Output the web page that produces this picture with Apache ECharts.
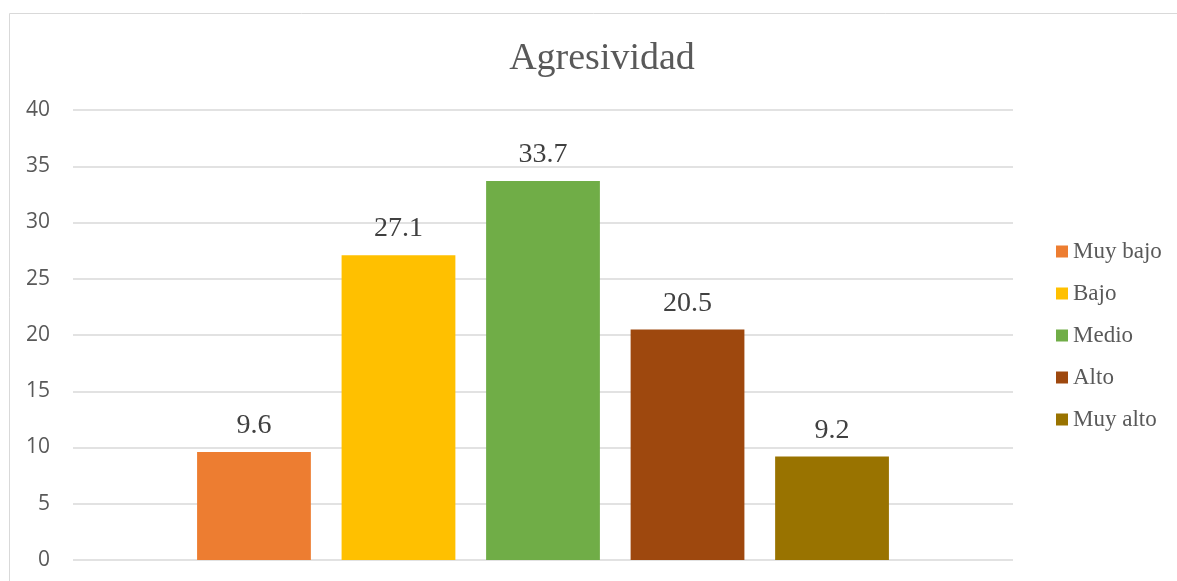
<!DOCTYPE html>
<html>
<head>
<meta charset="utf-8">
<script src="https://cdn.jsdelivr.net/npm/echarts@6/dist/echarts.min.js"></script>
<style>
  html, body { margin: 0; padding: 0; background: #fff; }
  #chart { width: 1177px; height: 581px; }
</style>
</head>
<body>
<div id="chart"></div>
<script>
// 数据
const levels = ['Muy bajo', 'Bajo', 'Medio', 'Alto', 'Muy alto']
const percents = [9.6, 27.1, 33.7, 20.5, 9.2]
const colors = ['#ed7d31', '#ffc000', '#70ad47', '#9e480e', '#997300']
const yTicks = [0, 5, 10, 15, 20, 25, 30, 35, 40]

const chart = echarts.init(document.getElementById('chart'))

const optionData = {
  animation: false,
  title: {
    text: 'Agresividad',
    left: 597,
    textAlign: 'center',
    top: 35,
    textStyle: {
      fontFamily: 'Liberation Serif',
      fontSize: 38,
      fontWeight: 'normal',
      color: '#595959'
    }
  },
  // 外框
  graphic: [{
    type: 'rect',
    shape: { x: 9.5, y: 13.5, width: 1300, height: 700 },
    style: { fill: 'none', stroke: '#d9d9d9', lineWidth: 1 },
    silent: true
  }],
  legend: {
    orient: 'vertical',
    left: 1051,
    top: 235,
    itemWidth: 12,
    itemHeight: 12,
    itemGap: 19,
    icon: 'rect',
    textStyle: {
      fontFamily: 'Liberation Serif',
      fontSize: 23,
      color: '#595959'
    },
    data: levels
  },
  grid: {
    left: 73,
    right: 164,
    top: 110,
    bottom: 21,
    containLabel: false
  },
  xAxis: {
    type: 'category',
    data: [''],
    axisLine: { show: false },
    axisTick: { show: false },
    axisLabel: { show: false }
  },
  yAxis: {
    type: 'value',
    min: yTicks[0],
    max: yTicks[yTicks.length - 1],
    interval: 5,
    axisLine: { show: false },
    axisTick: { show: false },
    axisLabel: {
      margin: 23,
      fontFamily: 'Open Sans',
      fontSize: 21,
      color: '#595959'
    },
    splitLine: { lineStyle: { color: '#d9d9d9', width: 1.5 } }
  },
  series: levels.map((name, i) => ({
    name: name,
    type: 'bar',
    data: [percents[i]],
    barGap: '27%',
    barCategoryGap: '26.4%',
    itemStyle: { color: colors[i] },
    label: {
      show: true,
      position: 'top',
      distance: 12,
      fontFamily: 'Liberation Serif',
      fontSize: 28,
      color: '#404040'
    }
  }))
}

chart.setOption(optionData)
</script>
</body>
</html>
